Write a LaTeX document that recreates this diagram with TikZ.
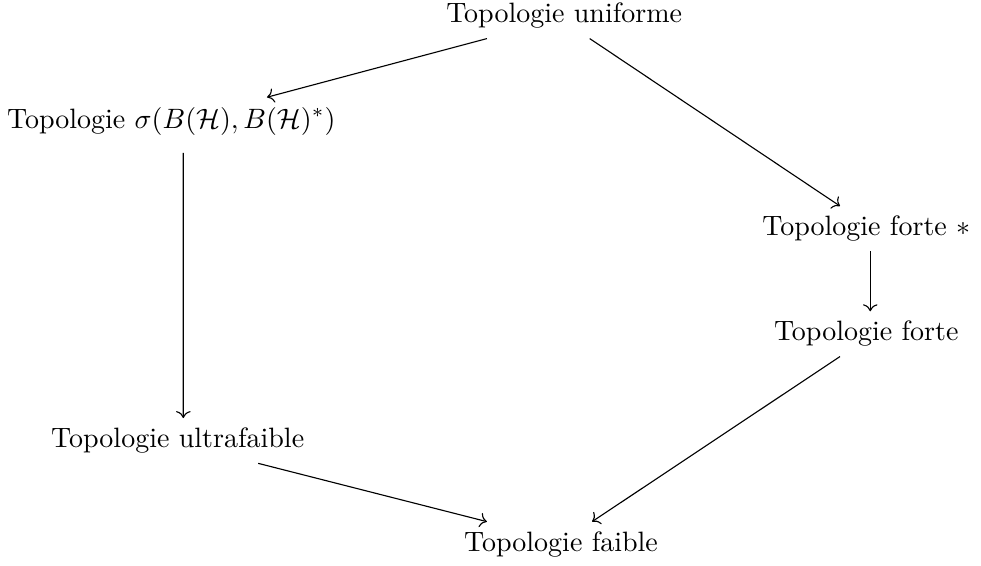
\documentclass[tikz,border=0pt]{standalone}
\usepackage{amsmath,amsfonts,amssymb}
\usetikzlibrary{arrows.meta}

\begin{document}
\begin{tikzpicture}
    \useasboundingbox (0,0) rectangle (12.31,7.10);
    \node (unif) at (7.08,6.90) {Topologie uniforme};
    \node (sigm) at (2.15,5.58) {Topologie $\sigma(B(\mathcal{H}),B(\mathcal{H})^*)$};
    \node (fortst) at (10.87,4.23) {Topologie forte $*$};
    \node (forte) at (10.87,2.91) {Topologie forte};
    \node (ultra) at (2.23,1.57) {Topologie ultrafaible};
    \node (faib) at (7.04,0.27) {Topologie faible};
    
    \draw[->] ([xshift=-0.97cm]unif.south) -- ([xshift=1.2cm]sigm.north);
    \draw[->] ([xshift=0.32cm]unif.south) -- ([xshift=-0.33cm]fortst.north);
    \draw[->] ([xshift=0.15cm,yshift=-0.1cm]sigm.south) -- ([xshift=0.07cm]ultra.north);
    \draw[->] ([xshift=0.05cm]fortst.south) -- ([xshift=0.05cm]forte.north);
    \draw[->] ([xshift=-0.33cm]forte.south) -- ([xshift=0.39cm]faib.north);
    \draw[->] ([xshift=1.01cm]ultra.south) -- ([xshift=-0.93cm]faib.north);
\end{tikzpicture}
\end{document}
